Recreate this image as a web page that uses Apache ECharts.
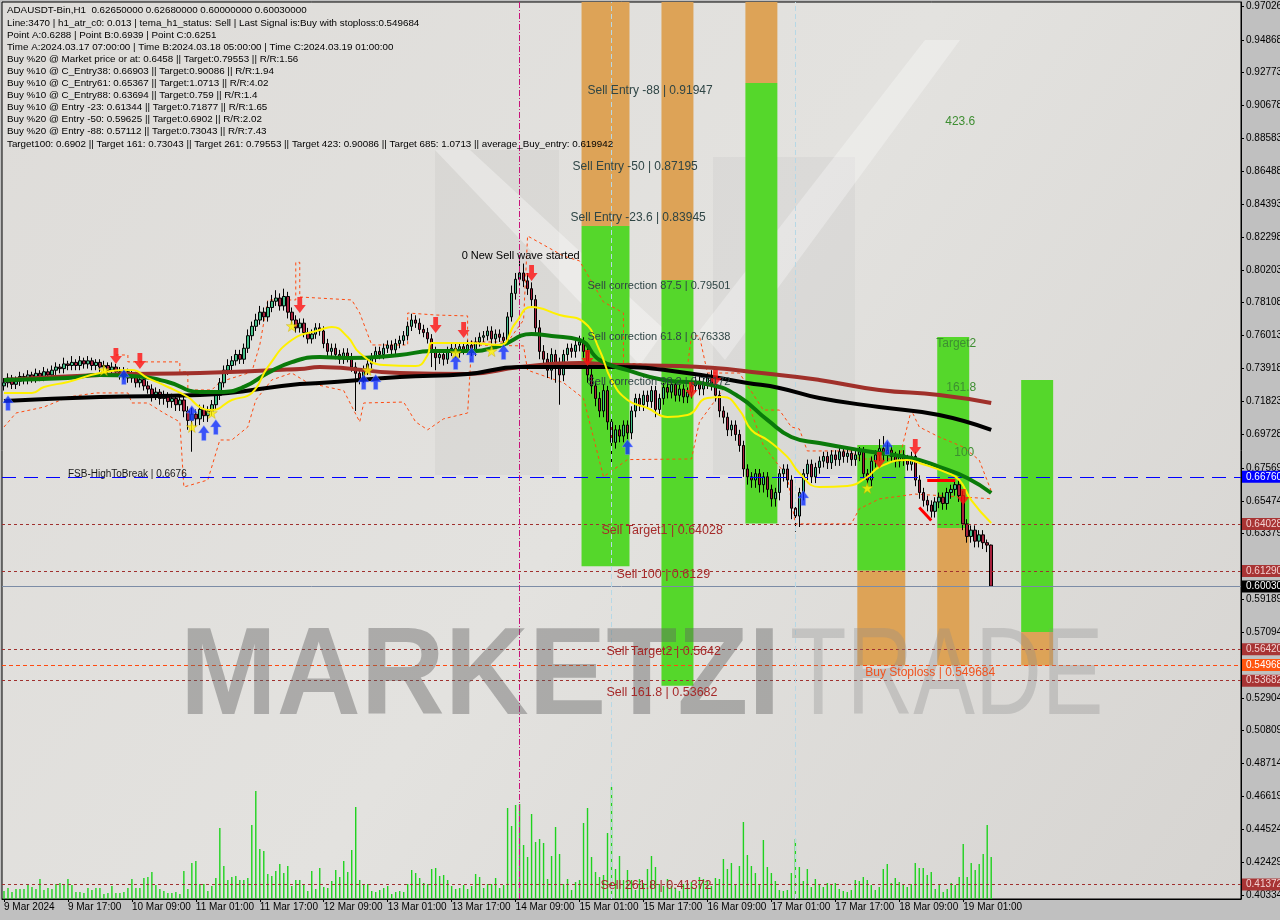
<!DOCTYPE html>
<html><head><meta charset="utf-8">
<script src="https://cdn.jsdelivr.net/npm/echarts@6.0.0/dist/echarts.min.js"></script>
<style>html,body{margin:0;padding:0;background:#c0c0c0;}#c{width:1280px;height:920px;}</style>
</head><body><div id="c"></div><script>
// ---------- DATA ----------
const xTickLabels = ['9 Mar 2024','9 Mar 17:00','10 Mar 09:00','11 Mar 01:00','11 Mar 17:00','12 Mar 09:00','13 Mar 01:00','13 Mar 17:00','14 Mar 09:00','15 Mar 01:00','15 Mar 17:00','16 Mar 09:00','17 Mar 01:00','17 Mar 17:00','18 Mar 09:00','19 Mar 01:00'];
const yTickValues = [0.97026,0.94868,0.92773,0.90678,0.88583,0.86488,0.84393,0.82298,0.80203,0.78108,0.76013,0.73918,0.71823,0.69728,0.67569,0.65474,0.63379,0.59189,0.57094,0.52904,0.50809,0.48714,0.46619,0.44524,0.42429,0.40334];

const opens = [
0.728,0.730,0.733,0.729,0.731,0.734,0.732,0.735,0.733,0.736,
0.734,0.737,0.735,0.738,0.740,0.739,0.742,0.741,0.743,0.741,
0.744,0.742,0.744,0.741,0.743,0.740,0.741,0.738,0.740,0.737,
0.735,0.737,0.733,0.735,0.730,0.732,0.728,0.726,0.722,0.724,
0.720,0.722,0.718,0.720,0.716,0.719,0.712,0.706,0.710,0.707,
0.713,0.709,0.712,0.716,0.722,0.730,0.738,0.741,0.744,0.748,
0.745,0.752,0.760,0.766,0.770,0.775,0.772,0.778,0.782,0.784,
0.779,0.785,0.775,0.770,0.765,0.768,0.762,0.758,0.761,0.765,
0.763,0.755,0.750,0.752,0.748,0.745,0.749,0.746,0.740,0.736,
0.733,0.738,0.742,0.746,0.750,0.748,0.752,0.754,0.751,0.755,
0.757,0.760,0.766,0.770,0.768,0.764,0.762,0.758,0.750,0.746,
0.748,0.745,0.750,0.752,0.749,0.753,0.751,0.754,0.750,0.756,
0.759,0.760,0.763,0.758,0.761,0.759,0.757,0.772,0.787,0.796,
0.800,0.795,0.790,0.783,0.765,0.750,0.745,0.738,0.748,0.742,
0.735,0.748,0.752,0.750,0.754,0.756,0.750,0.735,0.728,0.720,
0.712,0.725,0.705,0.692,0.700,0.696,0.703,0.698,0.712,0.720,
0.716,0.722,0.718,0.725,0.713,0.720,0.727,0.724,0.729,0.722,
0.726,0.721,0.724,0.728,0.731,0.726,0.730,0.733,0.729,0.722,
0.712,0.708,0.700,0.703,0.697,0.690,0.675,0.670,0.668,0.672,
0.665,0.670,0.662,0.656,0.660,0.672,0.675,0.668,0.650,0.645,
0.660,0.672,0.678,0.670,0.676,0.680,0.683,0.679,0.684,0.681,
0.686,0.683,0.685,0.681,0.684,0.686,0.672,0.668,0.680,0.684,
0.688,0.684,0.687,0.683,0.680,0.684,0.681,0.678,0.683,0.668,
0.660,0.655,0.652,0.648,0.654,0.657,0.653,0.660,0.662,0.665,
0.658,0.640,0.632,0.636,0.629,0.633,0.628,0.6265];
const closes = [
0.730,0.733,0.729,0.731,0.734,0.732,0.735,0.733,0.736,0.734,
0.737,0.735,0.738,0.740,0.739,0.742,0.741,0.743,0.741,0.744,
0.742,0.744,0.741,0.743,0.740,0.741,0.738,0.740,0.737,0.735,
0.737,0.733,0.735,0.730,0.732,0.728,0.726,0.722,0.724,0.720,
0.722,0.718,0.720,0.716,0.719,0.712,0.706,0.710,0.707,0.713,
0.709,0.712,0.716,0.722,0.730,0.738,0.741,0.744,0.748,0.745,
0.752,0.760,0.766,0.770,0.775,0.772,0.778,0.782,0.784,0.779,
0.785,0.775,0.770,0.765,0.768,0.762,0.758,0.761,0.765,0.763,
0.755,0.750,0.752,0.748,0.745,0.749,0.746,0.740,0.736,0.733,
0.738,0.742,0.746,0.750,0.748,0.752,0.754,0.751,0.755,0.757,
0.760,0.766,0.770,0.768,0.764,0.762,0.758,0.750,0.746,0.748,
0.745,0.750,0.752,0.749,0.753,0.751,0.754,0.750,0.756,0.759,
0.760,0.763,0.758,0.761,0.759,0.757,0.772,0.787,0.796,0.800,
0.795,0.790,0.783,0.765,0.750,0.745,0.738,0.748,0.742,0.735,
0.748,0.752,0.750,0.754,0.756,0.750,0.735,0.728,0.720,0.712,
0.725,0.705,0.692,0.700,0.696,0.703,0.698,0.712,0.720,0.716,
0.722,0.718,0.725,0.713,0.720,0.727,0.724,0.729,0.722,0.726,
0.721,0.724,0.728,0.731,0.726,0.730,0.733,0.729,0.722,0.712,
0.708,0.700,0.703,0.697,0.690,0.675,0.670,0.668,0.672,0.665,
0.670,0.662,0.656,0.660,0.672,0.675,0.668,0.650,0.645,0.660,
0.672,0.678,0.670,0.676,0.680,0.683,0.679,0.684,0.681,0.686,
0.683,0.685,0.681,0.684,0.686,0.672,0.668,0.680,0.684,0.688,
0.684,0.687,0.683,0.680,0.684,0.681,0.678,0.683,0.668,0.660,
0.655,0.652,0.648,0.654,0.657,0.653,0.660,0.662,0.665,0.658,
0.640,0.632,0.636,0.629,0.633,0.628,0.6265,0.6003];
const highs = [
0.733,0.736,0.735,0.734,0.737,0.736,0.738,0.737,0.739,0.738,
0.740,0.739,0.741,0.743,0.742,0.746,0.744,0.747,0.745,0.747,
0.746,0.747,0.746,0.745,0.745,0.744,0.743,0.743,0.742,0.740,
0.740,0.739,0.738,0.737,0.735,0.734,0.731,0.729,0.727,0.726,
0.725,0.724,0.723,0.722,0.722,0.721,0.715,0.714,0.713,0.716,
0.716,0.715,0.719,0.725,0.733,0.741,0.745,0.747,0.751,0.751,
0.755,0.764,0.769,0.774,0.779,0.778,0.782,0.786,0.789,0.787,
0.790,0.788,0.778,0.773,0.771,0.771,0.765,0.764,0.768,0.768,
0.766,0.758,0.755,0.755,0.751,0.752,0.752,0.749,0.743,0.739,
0.741,0.745,0.749,0.753,0.753,0.755,0.757,0.757,0.758,0.760,
0.763,0.769,0.774,0.773,0.771,0.767,0.765,0.761,0.753,0.751,
0.751,0.753,0.755,0.755,0.756,0.756,0.757,0.757,0.759,0.762,
0.763,0.766,0.766,0.764,0.764,0.762,0.775,0.792,0.800,0.808,
0.806,0.800,0.794,0.786,0.770,0.754,0.749,0.752,0.751,0.746,
0.751,0.755,0.755,0.757,0.760,0.759,0.754,0.739,0.731,0.724,
0.729,0.728,0.709,0.703,0.703,0.706,0.706,0.715,0.723,0.723,
0.725,0.725,0.728,0.728,0.723,0.730,0.730,0.732,0.732,0.729,
0.729,0.727,0.731,0.734,0.734,0.733,0.736,0.738,0.732,0.725,
0.715,0.711,0.706,0.706,0.700,0.693,0.678,0.673,0.675,0.675,
0.673,0.673,0.665,0.663,0.675,0.678,0.678,0.671,0.653,0.663,
0.675,0.681,0.681,0.679,0.683,0.686,0.686,0.687,0.687,0.689,
0.689,0.688,0.688,0.687,0.689,0.689,0.675,0.683,0.687,0.694,
0.696,0.692,0.690,0.686,0.687,0.687,0.684,0.686,0.686,0.671,
0.663,0.658,0.655,0.657,0.660,0.660,0.663,0.665,0.668,0.668,
0.661,0.643,0.639,0.639,0.636,0.636,0.630,0.6268];
const lows = [
0.725,0.727,0.726,0.726,0.728,0.729,0.729,0.730,0.730,0.731,
0.731,0.732,0.732,0.735,0.736,0.736,0.738,0.738,0.738,0.738,
0.739,0.739,0.738,0.738,0.737,0.737,0.735,0.735,0.734,0.732,
0.732,0.730,0.730,0.727,0.727,0.725,0.723,0.718,0.719,0.716,
0.716,0.714,0.714,0.712,0.712,0.708,0.700,0.686,0.702,0.703,
0.705,0.705,0.709,0.713,0.719,0.727,0.735,0.738,0.741,0.742,
0.742,0.749,0.757,0.763,0.767,0.769,0.769,0.775,0.779,0.776,
0.776,0.771,0.767,0.762,0.762,0.759,0.755,0.755,0.758,0.760,
0.752,0.747,0.747,0.745,0.742,0.742,0.743,0.737,0.712,0.729,
0.730,0.735,0.739,0.743,0.745,0.745,0.749,0.748,0.748,0.752,
0.754,0.757,0.763,0.765,0.761,0.759,0.755,0.740,0.738,0.742,
0.741,0.742,0.747,0.746,0.746,0.748,0.748,0.747,0.747,0.753,
0.756,0.757,0.755,0.755,0.756,0.754,0.754,0.769,0.783,0.792,
0.791,0.786,0.779,0.761,0.745,0.740,0.733,0.732,0.730,0.716,
0.731,0.744,0.746,0.746,0.750,0.746,0.730,0.723,0.715,0.708,
0.708,0.700,0.678,0.688,0.692,0.692,0.694,0.694,0.708,0.712,
0.712,0.714,0.714,0.708,0.709,0.716,0.720,0.720,0.718,0.718,
0.717,0.717,0.720,0.724,0.722,0.722,0.726,0.725,0.718,0.708,
0.704,0.696,0.696,0.693,0.686,0.670,0.665,0.663,0.663,0.660,
0.660,0.657,0.651,0.651,0.655,0.667,0.663,0.643,0.635,0.638,
0.655,0.668,0.666,0.666,0.672,0.676,0.675,0.675,0.677,0.677,
0.679,0.679,0.677,0.677,0.680,0.668,0.664,0.664,0.676,0.680,
0.680,0.680,0.679,0.676,0.676,0.677,0.674,0.674,0.664,0.656,
0.651,0.648,0.644,0.644,0.650,0.649,0.649,0.656,0.658,0.654,
0.636,0.628,0.628,0.625,0.625,0.624,0.622,0.600];
const volumes = [
8,11,7,10,10,10,14,12,10,20, 9,11,10,15,16,15,20,14,7,7,
6,11,9,11,11,5,6,13,6,6, 7,11,20,11,11,21,22,27,14,10,
8,6,6,7,5,28,10,36,38,15, 15,8,13,21,71,33,19,22,23,19,
19,21,74,108,50,48,25,23,28,35, 26,33,13,19,19,15,8,28,10,31,
12,11,18,29,22,38,27,49,92,19, 15,15,8,7,9,11,13,5,7,8,
7,15,29,26,21,16,15,30,31,23, 24,19,13,10,11,14,10,13,25,22,
11,15,15,21,11,14,91,73,94,95, 54,42,85,57,60,56,20,43,72,45,
15,20,9,17,19,76,91,42,27,22, 24,66,112,30,43,
19,29,19,9,20,16,30,43,32,15, 13,20,13,11,8,15,16,17,11,22,
20,19,13,21,20,40,30,36,15,33, 77,44,33,26,15,59,32,26,18,9,
8,9,26,60,32,18,30,12,20,15, 12,16,14,16,10,8,7,9,19,18,
22,19,14,9,12,30,35,16,21,17, 15,12,15,36,31,31,24,27,10,15,
7,10,16,14,22,55,22,36,29,35, 45,74,42];

const maBlack = [[0,0.7184],[24,0.7209],[49,0.7222],[74,0.7292],[79,0.7298],[99,0.7337],[116,0.7356],[129,0.7400],[144,0.7400],[154,0.7400],[169,0.7369],[186,0.7299],[194,0.7267],[204,0.7203],[219,0.7145],[234,0.7094],[247,0.6999]];
const maBrown = [[0,0.7318],[24,0.7350],[49,0.7362],[74,0.7388],[79,0.7400],[99,0.7362],[116,0.7356],[129,0.7400],[144,0.7426],[154,0.7413],[169,0.7407],[194,0.7350],[204,0.7318],[219,0.7254],[234,0.7222],[247,0.7171]];
const maGreen = [[0,0.7318],[16,0.7330],[24,0.7350],[32,0.7343],[41,0.7305],[49,0.7241],[54,0.7241],[60,0.7273],[66,0.7362],[72,0.7432],[79,0.7464],[86,0.7458],[99,0.7477],[107,0.7502],[116,0.7502],[124,0.7534],[132,0.7611],[137,0.7598],[144,0.7573],[149,0.7445],[156,0.7381],[165,0.7318],[177,0.7286],[184,0.7209],[191,0.7063],[197,0.6954],[204,0.6916],[214,0.6871],[227,0.6820],[234,0.6763],[241,0.6693],[247,0.6597]];
const maYellow = [[0,0.7235],[7,0.7235],[10,0.7273],[16,0.7305],[24,0.7362],[32,0.7381],[36,0.7330],[41,0.7273],[46,0.7209],[49,0.7145],[52,0.7126],[57,0.7190],[62,0.7235],[66,0.7400],[72,0.7573],[79,0.7636],[82,0.7656],[86,0.7592],[89,0.7490],[95,0.7413],[103,0.7407],[106,0.7477],[107,0.7554],[116,0.7554],[124,0.7541],[128,0.7681],[132,0.7783],[139,0.7732],[145,0.7688],[149,0.7509],[152,0.7318],[156,0.7190],[161,0.7139],[166,0.7082],[171,0.7094],[176,0.7203],[180,0.7209],[184,0.7126],[187,0.6999],[191,0.6935],[196,0.6827],[199,0.6725],[204,0.6635],[211,0.6642],[216,0.6699],[219,0.6763],[226,0.6807],[229,0.6788],[236,0.6725],[239,0.6680],[242,0.6552],[247,0.6406]];
const bandUpper = [[28,0.7477],[31,0.7477],[31,0.7433],[44,0.7433],[44,0.7369],[46,0.7369],[46,0.7254],[52,0.7254],[54,0.7305],[62,0.7369],[64,0.7541],[66,0.7828],[73,0.7828],[73,0.8068],[74,0.8068],[74,0.7847],[87,0.7828],[89,0.7745],[92,0.7541],[101,0.7541],[101,0.7745],[108,0.7732],[116,0.7726],[116,0.7560],[126,0.7560],[130,0.7700],[131,0.8236],[140,0.8108],[144,0.8077],[150,0.7815],[155,0.7745],[155,0.7426],[171,0.7401],[172,0.7599],[174,0.7599],[176,0.7362],[184,0.7362],[190,0.7126],[194,0.7126],[197,0.7018],[199,0.7005],[201,0.6865],[212,0.6865],[214,0.6814],[224,0.6814],[227,0.7126],[229,0.7018],[234,0.6954],[240,0.6890],[244,0.6807],[247,0.6610]];
const bandLower = [[0,0.7018],[3,0.7107],[10,0.7145],[16,0.7209],[23,0.7235],[31,0.7235],[32,0.7171],[36,0.7171],[40,0.7107],[44,0.7050],[45,0.6635],[51,0.6680],[54,0.6935],[57,0.6935],[61,0.7018],[63,0.7190],[67,0.7318],[72,0.7362],[76,0.7300],[85,0.7250],[89,0.7050],[90,0.7171],[100,0.7177],[103,0.7050],[106,0.7000],[110,0.7070],[116,0.7107],[117,0.7541],[130,0.7535],[131,0.7380],[140,0.7300],[145,0.7200],[150,0.6700],[156,0.6810],[172,0.6814],[174,0.7050],[180,0.7260],[186,0.7180],[190,0.6900],[196,0.6700],[198,0.6400],[212,0.6400],[214,0.6496],[219,0.6559],[228,0.6590],[247,0.6560]];
const redSegA = [[231,0.6676],[238,0.6676]];
const redSegB = [[229,0.6504],[232,0.6421]];

// zones: [startBar, endBar, highPrice, lowPrice, kind]
const zones = [
 [145,156,0.975,0.830,'orange'],[145,156,0.830,0.6129,'green'],
 [165,172,0.975,0.7955,'orange'],[165,172,0.7955,0.53682,'green'],
 [186,193,0.975,0.92116,'orange'],[186,193,0.92116,0.64028,'green'],
 [214,225,0.69033,0.61016,'green'],[214,225,0.61016,0.549684,'orange'],
 [234,241,0.75918,0.63738,'green'],[234,241,0.63738,0.549684,'orange'],
 [255,262,0.73176,0.57106,'green'],[255,262,0.57106,0.549684,'orange']];

const levelPrices = [0.6676,0.64028,0.6129,0.6003,0.5642,0.549684,0.53682,0.41372];
const levelKinds  = ['blue','red','red','price','red','stop','red','red'];
const vLineBars = [129,152,198];
const vLineKinds = ['magenta','light','light'];

const sellArrows = [[28,0.7471],[34,0.7439],[74,0.7796],[108,0.7668],[115,0.7637],[132,0.8000],[146,0.7458],[172,0.7254],[178,0.7330],[219,0.6807],[228,0.6890],[240,0.6572]];
const buyArrows = [[1,0.7171],[30,0.7337],[47,0.7107],[50,0.6980],[53,0.7018],[90,0.7305],[93,0.7305],[113,0.7432],[117,0.7477],[125,0.7496],[156,0.6890],[200,0.6565],[221,0.6890]];
const stars = [[25,0.7381],[47,0.7018],[52,0.7107],[72,0.7662],[91,0.7381],[113,0.7490],[122,0.7502],[216,0.6629]];

const infoLines = [
'ADAUSDT-Bin,H1  0.62650000 0.62680000 0.60000000 0.60030000',
'Line:3470 | h1_atr_c0: 0.013 | tema_h1_status: Sell | Last Signal is:Buy with stoploss:0.549684',
'Point A:0.6288 | Point B:0.6939 | Point C:0.6251',
'Time A:2024.03.17 07:00:00 | Time B:2024.03.18 05:00:00 | Time C:2024.03.19 01:00:00',
'Buy %20 @ Market price or at: 0.6458 || Target:0.79553 || R/R:1.56',
'Buy %10 @ C_Entry38: 0.66903 || Target:0.90086 || R/R:1.94',
'Buy %10 @ C_Entry61: 0.65367 || Target:1.0713 || R/R:4.02',
'Buy %10 @ C_Entry88: 0.63694 || Target:0.759 || R/R:1.4',
'Buy %10 @ Entry -23: 0.61344 || Target:0.71877 || R/R:1.65',
'Buy %20 @ Entry -50: 0.59625 || Target:0.6902 || R/R:2.02',
'Buy %20 @ Entry -88: 0.57112 || Target:0.73043 || R/R:7.43',
'Target100: 0.6902 || Target 161: 0.73043 || Target 261: 0.79553 || Target 423: 0.90086 || Target 685: 1.0713 || average_Buy_entry: 0.619942'];

// chart texts: [text, barPosition, price, kind]
const chartTexts = [
 ['0 New Sell wave started',115,0.8108,'black'],
 ['Sell Entry -88 | 0.91947',146.5,0.9161,'entry'],
 ['Sell Entry -50 | 0.87195',142.75,0.8676,'entry'],
 ['Sell Entry -23.6 | 0.83945',142.25,0.8351,'entry'],
 ['Sell correction 87.5 | 0.79501',146.5,0.7917,'corr'],
 ['Sell correction 61.8 | 0.76338',146.5,0.7592,'corr'],
 ['Sell correction 38.2 | 0.73172',146.5,0.7305,'corr'],
 ['Sell Target1 | 0.64028',150,0.6355,'target'],
 ['Sell 100 | 0.6129',153.75,0.6080,'target'],
 ['Sell Target2 | 0.5642',151.25,0.5589,'target'],
 ['Sell 161.8 | 0.53682',151.25,0.5322,'target'],
 ['Sell 261.8 | 0.41372',149.75,0.4091,'target'],
 ['Buy Stoploss | 0.549684',216,0.5449,'stop'],
 ['FSB-HighToBreak | 0.6676',16.5,0.6718,'fsb'],
 ['423.6',236,0.8963,'fib'],
 ['Target2',233.75,0.7547,'fib'],
 ['161.8',236.25,0.7267,'fib'],
 ['100',238.25,0.6852,'fib']];

// ---------- STYLES ----------
const NCAT = 310;
const cats = Array.from({length: NCAT}, (_, i) => String(i));
const FONT = 'Liberation Sans, Arial, sans-serif';
const zoneColor = {orange:'#DDA357', green:'#55D72B'};
const levelStyle = {
 blue:{line:'#0000FF', type:[14,8], bg:'#0000FF', fg:'#FFFFFF'},
 red:{line:'#A0302E', type:[3,3], bg:'#A83434', fg:'#F3D2D2'},
 price:{line:'#7C8CA6', type:'solid', bg:'#000000', fg:'#FFFFFF'},
 stop:{line:'#FF4A10', type:[4,3], bg:'#FF5510', fg:'#FFFFFF'}};
const textStyle = {
 black:{c:'#000000', s:11}, entry:{c:'#2F4545', s:12}, corr:{c:'#2F4545', s:11},
 target:{c:'#A52A2A', s:12.5}, stop:{c:'#F0521E', s:12}, fsb:{c:'#1A1A1A', s:10}, fib:{c:'#3E8E32', s:12}};
const showTick = (idx) => idx % 16 === 0 && idx / 16 < xTickLabels.length;

const chart = echarts.init(document.getElementById('c'), null, {renderer:'canvas'});

const option = {
 animation:false,
 backgroundColor:'#C0C0C0',
 grid:{left:2, right:39, top:2, bottom:21, show:true, borderColor:'#000', borderWidth:1, containLabel:false, outerBoundsMode:'none',
   backgroundColor:{type:'linear', x:0, y:0, x2:1, y2:1, colorStops:[{offset:0,color:'#DEDCD9'},{offset:0.5,color:'#E3E2DF'},{offset:1,color:'#D6D4D1'}]}},
 xAxis:{type:'category', data:cats, boundaryGap:true,
   axisLine:{show:true, lineStyle:{color:'#000', width:1}},
   axisTick:{show:true, interval:showTick, alignWithLabel:true, length:3, lineStyle:{color:'#000'}},
   axisLabel:{interval:showTick, formatter:(v, i) => xTickLabels[i/16] || '', align:'left', fontSize:10, fontFamily:FONT, color:'#000', margin:3},
   splitLine:{show:false}},
 yAxis:[{type:'value', min:0.40078, max:0.97281, position:'right', scale:true,
   axisLine:{show:true, lineStyle:{color:'#000'}},
   axisTick:{show:true, customValues:yTickValues, length:3, lineStyle:{color:'#000'}},
   axisLabel:{customValues:yTickValues, formatter:v => v.toFixed(5), fontSize:10, fontFamily:FONT, color:'#000', margin:5, align:'left'},
   splitLine:{show:false}},
  {type:'value', min:0, max:897, show:false, gridIndex:0}],
 series:[
  {type:'custom', name:'zones', z:1, clip:true, data:zones.map(z => [z[0], z[1], z[2], z[3]]),
   encode:{x:[0,1], y:[2,3]},
   renderItem:(params, api) => {
     const s = api.value(0), e = api.value(1), hi = api.value(2), lo = api.value(3);
     const p1 = api.coord([s, hi]), p2 = api.coord([e, lo]);
     const bw = api.size([1, 0])[0];
     const rect = echarts.graphic.clipRectByRect({x:p1[0]-bw/2, y:p1[1], width:p2[0]-p1[0]+bw, height:p2[1]-p1[1]},
       {x:params.coordSys.x, y:params.coordSys.y, width:params.coordSys.width, height:params.coordSys.height});
     if (!rect) return;
     return {type:'rect', shape:rect, style:{fill:zoneColor[zones[params.dataIndex][4]]}};
   }},
  {type:'bar', name:'volume', yAxisIndex:1, z:2, silent:true, data:volumes, barWidth:1.4, barGap:'-100%',
   itemStyle:{color:'#1FD21F', opacity:1}},
  {type:'line', name:'bandUpper', data:bandUpper, symbol:'none', lineStyle:{color:'#FF4A10', width:1, type:[3,3]}, z:3},
  {type:'line', name:'bandLower', data:bandLower, symbol:'none', lineStyle:{color:'#FF4A10', width:1, type:[3,3]}, z:3},
  {type:'candlestick', name:'ADAUSDT', data:opens.map((o,i) => [o, closes[i], lows[i], highs[i]]), barWidth:3, z:4,
   itemStyle:{color:'#45C08A', color0:'#A8203C', borderColor:'#000', borderColor0:'#000', borderWidth:1}},
  {type:'line', name:'maBrown', data:maBrown, smooth:true, symbol:'none', lineStyle:{color:'#A0302A', width:4}, z:5},
  {type:'line', name:'maBlack', data:maBlack, smooth:true, symbol:'none', lineStyle:{color:'#000000', width:4}, z:5},
  {type:'line', name:'maGreen', data:maGreen, smooth:true, symbol:'none', lineStyle:{color:'#0A7A0A', width:4}, z:6},
  {type:'line', name:'maYellow', data:maYellow, smooth:true, symbol:'none', lineStyle:{color:'#FFF000', width:2}, z:7},
  {type:'line', name:'redA', data:redSegA, symbol:'none', lineStyle:{color:'#FF0000', width:3}, z:7},
  {type:'line', name:'redB', data:redSegB, symbol:'none', lineStyle:{color:'#FF0000', width:3}, z:7},
  {type:'line', name:'levels', data:[], z:8,
   markLine:{silent:true, symbol:'none', animation:false,
     data:levelPrices.map((p,i) => {const st = levelStyle[levelKinds[i]]; return {yAxis:p,
       lineStyle:{color:st.line, type:st.type, width:1},
       label:{show:true, position:'end', distance:1, formatter:() => p.toFixed(5), backgroundColor:st.bg, color:st.fg, fontSize:10, fontFamily:FONT, padding:[1,6,1,4]}};})
     .concat(vLineBars.map((b,i) => ({xAxis:b, label:{show:false},
       lineStyle: vLineKinds[i]==='magenta' ? {color:'#C8147A', type:[6,2,1,2], width:1} : {color:'#B6D8E6', type:[5,3], width:1}})))}},
  {type:'scatter', name:'sell', data:sellArrows, symbol:'path://M3,0 L7,0 L7,6 L10,6 L5,12 L0,6 L3,6 Z', symbolSize:[12,16], itemStyle:{color:'#FF1010'}, z:9},
  {type:'scatter', name:'buy', data:buyArrows, symbol:'path://M5,0 L10,6 L7,6 L7,12 L3,12 L3,6 L0,6 Z', symbolSize:[11,15], itemStyle:{color:'#1030FF', borderColor:'#8FA8FF', borderWidth:0.5}, z:9},
  {type:'scatter', name:'stars', data:stars, symbol:'path://M5,0 L6.2,3.6 L10,3.6 L7,5.9 L8.1,9.5 L5,7.3 L1.9,9.5 L3,5.9 L0,3.6 L3.8,3.6 Z', symbolSize:11, itemStyle:{color:'#FFF200', borderColor:'#C8A800', borderWidth:0.5}, z:9}
 ]
};
chart.setOption(option);

// ---------- OVERLAYS (background logo, texts, watermark) ----------
const x0 = chart.convertToPixel({xAxisIndex:0}, '0');
const x1 = chart.convertToPixel({xAxisIndex:0}, '1');
const band = x1 - x0;
const g = [
  {type:'rect', id:'logo1', z:0.5, silent:true, shape:{x:435, y:150, width:124, height:325}, style:{fill:'rgba(0,0,0,0.035)'}},
  {type:'rect', id:'logo2', z:0.5, silent:true, shape:{x:713, y:157, width:142, height:318}, style:{fill:'rgba(0,0,0,0.03)'}},
  {type:'polygon', id:'logo3', z:0.5, silent:true, shape:{points:[[435,150],[470,150],[665,330],[640,365]]}, style:{fill:'rgba(255,255,255,0.35)'}},
  {type:'polygon', id:'logo4', z:0.5, silent:true, shape:{points:[[700,330],[925,40],[960,40],[725,360]]}, style:{fill:'rgba(255,255,255,0.3)'}}
];
infoLines.forEach((t, k) => g.push({type:'text', id:'info' + k, z:50, style:{text:t, x:7, y:10.7 + 12.1*k, fill:'#000', font:'9.8px ' + FONT, verticalAlign:'middle'}}));
chartTexts.forEach((t, k) => {
  const st = textStyle[t[3]];
  const x = x0 - band/2 + t[1]*band;
  const y = chart.convertToPixel({yAxisIndex:0}, t[2]);
  g.push({type:'text', id:'ct' + k, z:40, style:{text:t[0], x:x, y:y, fill:st.c, font:st.s + 'px ' + FONT, verticalAlign:'middle'}});
});
g.push({type:'text', id:'wm1', z:30, x:180, y:680, scaleX:0.93, silent:true, style:{text:'MARKETZI', x:0, y:0, fill:'rgba(95,95,95,0.42)', font:'bold 125px ' + FONT, verticalAlign:'middle'}});
g.push({type:'text', id:'wm2', z:30, x:790, y:680, scaleX:0.74, silent:true, style:{text:'TRADE', x:0, y:0, fill:'rgba(140,140,140,0.32)', font:'125px ' + FONT, verticalAlign:'middle'}});
chart.setOption({graphic:g});
</script></body></html>
